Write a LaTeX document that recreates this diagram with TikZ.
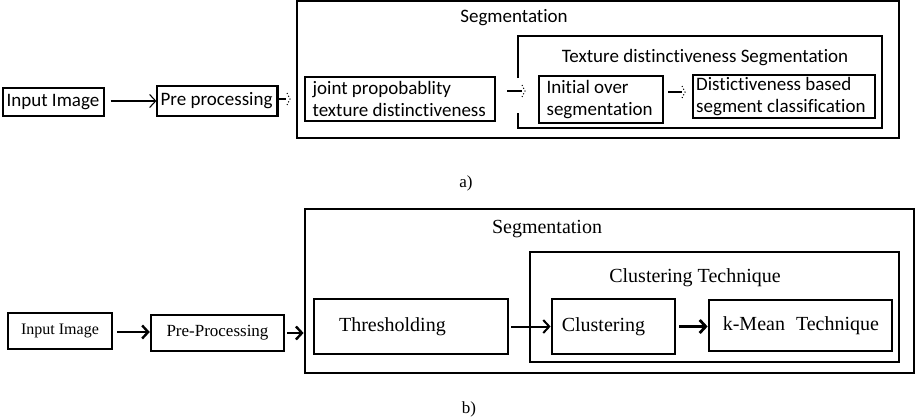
\documentclass[tikz,border=0pt]{standalone}
\usepackage{fontspec}
\setmainfont{Liberation Serif}
\newfontfamily\calfont[Ligatures=NoCommon]{Carlito}
\usetikzlibrary{arrows.meta}
\begin{document}
\begin{tikzpicture}[x=1pt,y=-1pt,
  abox/.style={draw, rectangle, line width=1.2pt, inner sep=0pt},
  bbox/.style={draw, rectangle, line width=2.8pt, inner sep=0pt, align=center,
    font=\fontsize{20}{24}\selectfont},
  atext/.style={font=\calfont\fontsize{19}{22}\selectfont, inner sep=0pt, align=left},
  btext/.style={font=\fontsize{20}{24}\selectfont, inner sep=0pt, align=left},
  arrowa/.style={line width=1.1pt, -{Straight Barb[length=6pt,width=13pt]}},
  arrowb/.style={line width=2.4pt, -{Straight Barb[length=6pt,width=13pt]}},
  dotbarb/.style={line width=1.1pt, dotted},
]
\useasboundingbox (0,0) rectangle (915,420);

% ---------------- a) ----------------
\node[abox, minimum width=602pt, minimum height=137pt, line width=1.5pt] (segA) at (598,69.5) {};
\node[atext] (segAlab) at (514,18) {Segmentation};
\draw[line width=1.2pt] (518,78) -- (518,36) -- (882,36) -- (882,128) -- (518,128) -- (518,113);
\node[atext] (texAlab) at (705,58) {Texture distinctiveness Segmentation};

\node[abox, minimum width=101pt, minimum height=28pt] (inA) at (53.5,102) {};
\node[atext, anchor=west] (inAt) at ([xshift=4pt]inA.west) {Input Image};
\node[abox, minimum width=120pt, minimum height=30pt] (preA) at (217,101) {};
\node[atext, anchor=west] (preAt) at ([xshift=4pt]preA.west) {Pre processing};
\draw[line width=2.6pt] (preA.north east) -- (preA.south east);
\node[abox, minimum width=190pt, minimum height=44pt] (jointA) at (400,99) {};
\node[atext, anchor=west] (jointAt) at ([xshift=8pt]jointA.west) {joint propobablity\\texture distinctiveness};
\node[abox, minimum width=124pt, minimum height=47pt] (initA) at (601,99.5) {};
\node[atext, anchor=west] (initAt) at ([xshift=8pt]initA.west) {Initial over\\segmentation};
\node[abox, minimum width=182pt, minimum height=43pt, line width=2pt] (distA) at (784,96.5) {};
\node[atext, anchor=west] (distAt) at ([xshift=4pt]distA.west) {Distictiveness based\\segment classification};

\draw[arrowa] (inA.east) ++(6,-1) -- (preA.west |- 0,101);
% faded arrows
\coordinate (p1) at (290,99);
\draw[line width=2.4pt] (preA.east |- p1) -- (286,99);
\draw[dotbarb] (p1) ++(-3,-6) -- (p1) -- ++(-3,6);
\coordinate (q1s) at (507,91);
\coordinate (q1) at (525,91);
\draw[line width=1.1pt] (q1s) -- ++(15,0);
\draw[dotbarb] (q1) ++(-3,-6) -- (q1) -- ++(-3,6);
\coordinate (r1s) at (668,92);
\coordinate (r1) at (685,92);
\draw[line width=1.1pt] (r1s) -- ++(14,0);
\draw[dotbarb] (r1) ++(-3,-6) -- (r1) -- ++(-3,6);

\node[font=\fontsize{17}{20}\selectfont] (labA) at (466,183) {a)};

% ---------------- b) ----------------
\node[bbox, minimum width=609pt, minimum height=164pt] (segB) at (609.5,291) {};
\node[btext] (segBlab) at (547,229) {Segmentation};
\node[bbox, minimum width=369pt, minimum height=110pt] (cltB) at (714.5,307) {};
\node[btext] (cltBlab) at (695,278) {Clustering Technique};

\node[bbox, minimum width=104pt, minimum height=36pt, font=\fontsize{16}{19}\selectfont] (inB) at (60,331) {Input Image};
\node[bbox, minimum width=133pt, minimum height=36pt, line width=2.4pt, font=\fontsize{17}{20}\selectfont] (preB) at (217.5,333) {Pre-Processing};
\node[bbox, minimum width=194pt, minimum height=55pt, line width=2.2pt] (thrB) at (411,326.5) {};
\node[btext, anchor=west] (thrBt) at ([xshift=26pt]thrB.west) {Thresholding};
\node[bbox, minimum width=123pt, minimum height=55pt] (cluB) at (613.5,326.5) {};
\node[btext, anchor=west] (cluBt) at ([xshift=11pt]cluB.west) {Clustering};
\node[bbox, minimum width=183pt, minimum height=51pt] (kmB) at (800.5,325.5) {};
\node[btext, anchor=west] (kmBt) at ([xshift=15pt]kmB.west) {k-Mean\hspace{11pt}Technique};

\draw[arrowb] (inB.east) ++(4,1) -- (preB.west |- 0,332);
\draw[arrowb] (preB.east) ++(2,0) -- (preB.east -| segB.west);
\draw[arrowb, line width=2pt] (thrB.east) ++(2,0) -- (cluB.west);
\draw[arrowb, line width=2.8pt] (cluB.east) ++(3,0) -- (cluB.east -| kmB.west);

\node[font=\fontsize{17}{20}\selectfont] (labB) at (469,409) {b)};
\end{tikzpicture}
\end{document}
